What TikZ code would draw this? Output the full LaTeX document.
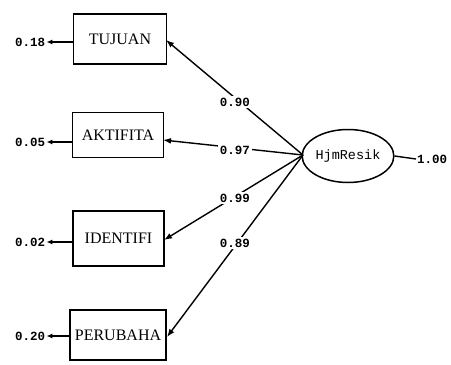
\documentclass[tikz,border=0pt]{standalone}
\usepackage{fontspec}
\setmainfont{Liberation Serif}
\newfontfamily\monofont{Liberation Mono}
\usetikzlibrary{arrows.meta,shapes.geometric}
\begin{document}
\begin{tikzpicture}[x=1pt,y=-1pt,
  obs/.style={draw,line width=1.5pt,minimum width=#1,minimum height=50pt,inner sep=0pt,font=\fontsize{16}{16}\selectfont},
  lat/.style={draw,ellipse,line width=1.5pt,minimum width=90pt,minimum height=53pt,inner sep=0pt,font=\monofont\fontsize{13.5}{13.5}\selectfont},
  num/.style={font=\monofont\bfseries\fontsize{12.5}{12.5}\selectfont,inner sep=1pt},
  lbl/.style={num,fill=white,inner sep=1.5pt},
  path/.style={line width=1.4pt,-{Latex[length=8pt,width=6pt]}},
  err/.style={line width=1.4pt,-{Latex[length=6pt,width=5pt]}}]
\useasboundingbox (0,0) rectangle (451,365);
% observed indicators
\node[obs=93pt] (tuj) at (120,39) {TUJUAN};
\node[obs=91pt,minimum height=45pt] (akt) at (118,135) {AKTIFITA};
\node[obs=91pt,minimum height=55pt] (ide) at (118.5,238.5) {IDENTIFI};
\node[obs=96pt] (per) at (118,335) {PERUBAHA};
% latent construct
\node[lat] (hjm) at (348,156) {HjmResik};
\coordinate (hub) at (303,155);
% error variances
\node[num,anchor=west] (e1) at (14,42) {0.18};
\node[num,anchor=west] (e2) at (14,142) {0.05};
\node[num,anchor=west] (e3) at (14,242) {0.02};
\node[num,anchor=west] (e4) at (14,336) {0.20};
\draw[err] (tuj.west |- e1) -- (e1);
\draw[err] (akt.west |- e2) -- (e2);
\draw[err] (ide.west |- e3) -- (e3);
\draw[err] (per.west |- e4) -- (e4);
% latent variance
\node[num,anchor=west] (v) at (416,159) {1.00};
\draw[line width=1.4pt] (hjm.east) -- (v.west);
% loadings
\coordinate (t1) at (166,40);
\coordinate (t2) at (163,140);
\coordinate (t3) at (164,240);
\coordinate (t4) at (167,337);
\draw[path] (hub) -- (t1);
\draw[path] (hub) -- (t2);
\draw[path] (hub) -- (t3);
\draw[path] (hub) -- (t4);
\node[lbl] (l1) at (235,102) {0.90};
\node[lbl] (l2) at (235,150) {0.97};
\node[lbl] (l3) at (235,198) {0.99};
\node[lbl] (l4) at (235,243) {0.89};
\end{tikzpicture}
\end{document}
